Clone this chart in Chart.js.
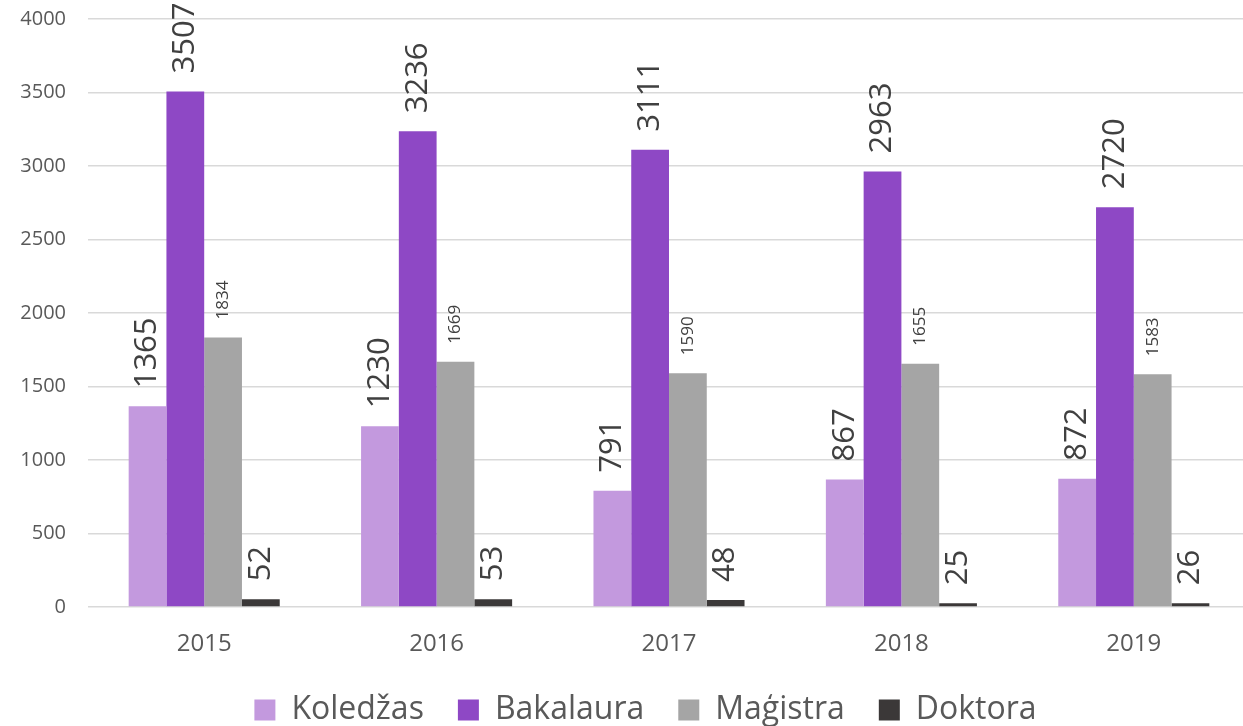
<!DOCTYPE html>
<html>
<head>
<meta charset="utf-8">
<script src="https://cdn.jsdelivr.net/npm/chart.js@4/dist/chart.umd.min.js"></script>
<style>
  html, body { margin: 0; padding: 0; background: #fff; overflow: hidden; }
  #wrap { position: relative; width: 1291px; height: 736px; }
</style>
</head>
<body>
<div id="wrap"><canvas id="chart"></canvas></div>
<script>
const years = ['2015', '2016', '2017', '2018', '2019'];
const seriesNames = ['Koledžas', 'Bakalaura', 'Maģistra', 'Doktora'];
const koledzas = [1365, 1230, 791, 867, 872];
const bakalaura = [3507, 3236, 3111, 2963, 2720];
const magistra = [1834, 1669, 1590, 1655, 1583];
const doktora = [52, 53, 48, 25, 26];

const colors = ['#C399DE', '#8E48C5', '#A5A5A5', '#3B3838'];
const labelSizes = [31, 31, 17, 31];

// draw the value above each bar, turned to read bottom-up
const barValueLabels = {
  id: 'barValueLabels',
  afterDatasetsDraw(chart) {
    const ctx = chart.ctx;
    chart.data.datasets.forEach((ds, di) => {
      const meta = chart.getDatasetMeta(di);
      ctx.save();
      ctx.fillStyle = '#404040';
      ctx.font = labelSizes[di] + 'px "Open Sans"';
      ctx.textAlign = 'left';
      ctx.textBaseline = 'middle';
      meta.data.forEach((bar, i) => {
        ctx.save();
        ctx.translate(bar.x, bar.y - 18);
        ctx.rotate(-Math.PI / 2);
        ctx.fillText(String(ds.data[i]), 0, 0);
        ctx.restore();
      });
      ctx.restore();
    });
  }
};

// legend sits a bit right of the plot's centre in the original
const legendShift = {
  id: 'legendShift',
  afterLayout(chart) {
    chart.legend.left += 11.5;
    chart.legend.right += 11.5;
  }
};

const dataSets = [koledzas, bakalaura, magistra, doktora].map((vals, i) => ({
  label: seriesNames[i],
  data: vals,
  backgroundColor: colors[i],
  borderWidth: 0,
  categoryPercentage: 0.65,
  barPercentage: 1
}));

new Chart(document.getElementById('chart'), {
  type: 'bar',
  data: { labels: years, datasets: dataSets },
  options: {
    responsive: true,
    maintainAspectRatio: false,
    animation: false,
    layout: { padding: { left: 18, right: 41, top: 19, bottom: 0 } },
    plugins: {
      tooltip: { enabled: false },
      legend: {
        position: 'bottom',
        labels: {
          boxWidth: 21,
          boxHeight: 21,
          padding: 34,
          color: '#595959',
          font: { family: 'Open Sans', size: 32 }
        }
      }
    },
    scales: {
      x: {
        grid: { display: false, drawTicks: false },
        border: { display: false },
        ticks: { color: '#595959', padding: 23, font: { family: 'Open Sans', size: 24 } },
        afterFit(scale) { scale.height = 53; }
      },
      y: {
        min: 0,
        max: 4000,
        grid: { color: '#D9D9D9', lineWidth: 1.5, drawTicks: false },
        border: { display: false },
        ticks: {
          stepSize: 500,
          color: '#595959',
          padding: 22,
          font: { family: 'Open Sans', size: 20 },
          callback: (v) => String(v)
        },
        afterFit(scale) { scale.width = 70; scale.paddingTop = 0; }
      }
    }
  },
  plugins: [barValueLabels, legendShift]
});
</script>
</body>
</html>
